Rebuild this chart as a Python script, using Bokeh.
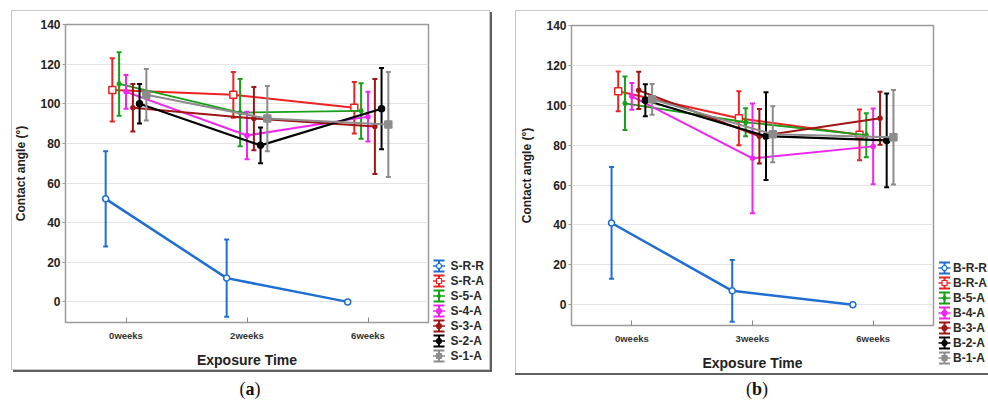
from bokeh.plotting import figure
from bokeh.models import FactorRange, Range1d, ColumnDataSource, FixedTicker, Div
from bokeh.transform import dodge
from bokeh.layouts import row, column
from bokeh.core.properties import value
from bokeh.embed import file_html
from bokeh.resources import INLINE

# ---------------- data ----------------
weeks_a = ["0weeks", "2weeks", "6weeks"]
weeks_b = ["0weeks", "3weeks", "6weeks"]
yticks = [0, 20, 40, 60, 80, 100, 120, 140]

names_a = ["S-R-R", "S-R-A", "S-5-A", "S-4-A", "S-3-A", "S-2-A", "S-1-A"]
names_b = ["B-R-R", "B-R-A", "B-5-A", "B-4-A", "B-3-A", "B-2-A", "B-1-A"]

# panel (a) means and error half-widths
a_SRR_mean = [52, 12, 0];        a_SRR_err = [24, 19.5, 0]
a_SRA_mean = [107, 104.5, 98];   a_SRA_err = [16, 11.5, 13]
a_S5A_mean = [110, 95.5, 96.4];  a_S5A_err = [16, 17, 14]
a_S4A_mean = [106, 84, 93.5];    a_S4A_err = [8.5, 12, 12.5]
a_S3A_mean = [98, 92.5, 88.5];   a_S3A_err = [12, 16, 24]
a_S2A_mean = [100, 79, 97.5];    a_S2A_err = [10, 9, 20.5]
a_S1A_mean = [104.5, 92.5, 89.5]; a_S1A_err = [13, 16.5, 26.5]

# panel (b)
b_BRR_mean = [41, 7, 0];         b_BRR_err = [28, 15.5, 0]
b_BRA_mean = [107, 93.5, 85.2];  b_BRA_err = [10, 13.5, 12.7]
b_B5A_mean = [101, 91.5, 85];    b_B5A_err = [13.4, 7, 11]
b_B4A_mean = [104.5, 73.4, 79.4]; b_B4A_err = [6.7, 27.5, 19]
b_B3A_mean = [107.5, 84.5, 93.5]; b_B3A_err = [9.3, 13.7, 13.3]
b_B2A_mean = [102.5, 84.5, 82.4]; b_B2A_err = [8, 22, 23.5]
b_B1A_mean = [103, 85.5, 84];    b_B1A_err = [7.7, 14, 23.7]

means_a = [a_SRR_mean, a_SRA_mean, a_S5A_mean, a_S4A_mean, a_S3A_mean, a_S2A_mean, a_S1A_mean]
errs_a = [a_SRR_err, a_SRA_err, a_S5A_err, a_S4A_err, a_S3A_err, a_S2A_err, a_S1A_err]
means_b = [b_BRR_mean, b_BRA_mean, b_B5A_mean, b_B4A_mean, b_B3A_mean, b_B2A_mean, b_B1A_mean]
errs_b = [b_BRR_err, b_BRA_err, b_B5A_err, b_B4A_err, b_B3A_err, b_B2A_err, b_B1A_err]

# ---------------- styles ----------------
colors = ["#1f6fd2", "#ee2222", "#18a018", "#f025f0", "#a01515", "#000000", "#8c8c8c"]
markers = ["circle", "square", "diamond", "circle", "circle", "circle", "square"]
msizes = [6, 7, 6, 4, 4, 6, 7]
mfill = ["white", "white", None, None, None, None, None]
offsets = [-0.168, -0.113, -0.057, 0.0, 0.057, 0.112, 0.168]
widths = [2.5, 2, 1.8, 2, 2, 2.2, 2]

SANS = "Liberation Sans"
FRAME_STYLE_A = {"outline": "1px solid #c6c6c6", "outline-offset": "-1px",
                 "box-shadow": "2px 2px 0 0 #5f5f5f", "background": "white"}
FRAME_STYLE_B = {"border-left": "1px solid #c6c6c6", "border-top": "1px solid #c6c6c6",
                 "box-sizing": "border-box",
                 "box-shadow": "0 2px 0 0 #5f5f5f", "background": "white"}


def make_plot(weeks, means, errs, width, height, bl, br, bb):
    p = figure(width=width, height=height,
               x_range=FactorRange(*weeks, range_padding=0),
               y_range=Range1d(-10.4, 140),
               output_backend="svg", toolbar_location=None,
               min_border_left=bl, min_border_right=br, min_border_top=14, min_border_bottom=bb,
               background_fill_color="white", border_fill_color=None)
    p.outline_line_color = "#9a9a9a"
    p.outline_line_width = 1.5
    p.xgrid.visible = False
    p.ygrid.ticker = FixedTicker(ticks=yticks)
    p.ygrid.grid_line_color = "#e4e4e4"
    p.ygrid.grid_line_width = 1

    ya = p.yaxis[0]
    ya.ticker = FixedTicker(ticks=yticks)
    ya.axis_label = "Contact angle (°)"
    ya.axis_label_text_font = SANS
    ya.axis_label_text_font_style = "bold"
    ya.axis_label_text_font_size = "12px"
    ya.axis_label_text_color = "#222222"
    ya.axis_label_standoff = 9
    ya.major_label_text_font = SANS
    ya.major_label_text_font_style = "bold"
    ya.major_label_text_font_size = "12px"
    ya.major_label_text_color = "#222222"
    ya.major_label_standoff = 2
    ya.major_tick_out = 3
    ya.major_tick_in = 0
    ya.minor_tick_out = 0
    ya.minor_tick_in = 0
    ya.axis_line_color = "#9a9a9a"
    ya.major_tick_line_color = "#9a9a9a"

    xa = p.xaxis[0]
    xa.axis_label = "Exposure Time"
    xa.axis_label_text_font = SANS
    xa.axis_label_text_font_style = "bold"
    xa.axis_label_text_font_size = "14px"
    xa.axis_label_text_color = "#222222"
    xa.axis_label_standoff = 8
    xa.major_label_text_font = SANS
    xa.major_label_text_font_style = "bold"
    xa.major_label_text_font_size = "9.5px"
    xa.major_label_text_color = "#333333"
    xa.major_label_standoff = 7
    xa.major_tick_out = 0
    xa.major_tick_in = 5
    xa.axis_line_color = "#9a9a9a"
    xa.major_tick_line_color = "#888888"

    for i in range(len(means)):
        m = means[i]
        e = errs[i]
        src = ColumnDataSource(dict(week=weeks, mean=m,
                                    lo=[mm - ee for mm, ee in zip(m, e)],
                                    hi=[mm + ee for mm, ee in zip(m, e)]))
        dx = dodge("week", offsets[i], range=p.x_range)
        c = colors[i]
        p.segment(x0=dx, y0="lo", x1=dx, y1="hi", source=src, line_color=c, line_width=2)
        p.scatter(x=dx, y="hi", source=src, marker="dash", size=5, line_color=c, line_width=2)
        p.scatter(x=dx, y="lo", source=src, marker="dash", size=5, line_color=c, line_width=2)
        p.line(x=dx, y="mean", source=src, line_color=c, line_width=widths[i])
        fc = mfill[i] if mfill[i] else c
        p.scatter(x=dx, y="mean", source=src, marker=markers[i], size=msizes[i],
                  line_color=c, fill_color=fc, line_width=1.5)
    return p


def make_legend(names, width, icon_x, text_x, font_size, top_margin):
    n = len(names)
    lg = figure(width=width, height=15 * n, x_range=Range1d(0, width),
                y_range=Range1d(n - 0.5, -0.5), output_backend="svg", toolbar_location=None,
                min_border=0, x_axis_location=None, y_axis_location=None,
                background_fill_color=None, border_fill_color=None, outline_line_color=None,
                margin=(top_margin, 0, 0, 0))
    lg.xgrid.visible = False
    lg.ygrid.visible = False
    src = ColumnDataSource(dict(name=names, y=list(range(n)), color=colors,
                                marker=markers,
                                fill=[f if f else c for f, c in zip(mfill, colors)]))
    top = dodge("y", -0.36)
    bot = dodge("y", 0.36)
    lg.segment(x0=icon_x, x1=icon_x, y0=top, y1=bot, source=src, line_color="color", line_width=2)
    lg.segment(x0=icon_x - 5.5, x1=icon_x + 5.5, y0=top, y1=top, source=src,
               line_color="color", line_width=2)
    lg.segment(x0=icon_x - 5.5, x1=icon_x + 5.5, y0=bot, y1=bot, source=src,
               line_color="color", line_width=2)
    lg.segment(x0=icon_x - 6, x1=icon_x + 6, y0="y", y1="y", source=src,
               line_color="color", line_width=1.5)
    lg.scatter(x=icon_x, y="y", source=src, marker="marker", size=5,
               line_color="color", fill_color="fill", line_width=1.2)
    lg.text(x=text_x, y="y", text="name", source=src, text_baseline="middle",
            text_align="left", text_font=value(SANS), text_font_style="bold",
            text_font_size=font_size, text_color="#2a2a2a")
    return lg


plot_a = make_plot(weeks_a, means_a, errs_a, 421, 360, 54, 4, 47)
leg_a = make_legend(names_a, 58, 6.5, 18, "12px", 248)
panel_a = row(plot_a, column(leg_a, width=58, height=360), styles=FRAME_STYLE_A,
              margin=(10, 25, 0, 11))

plot_b = make_plot(weeks_b, means_b, errs_b, 419, 362, 55, 2, 47)
leg_b = make_legend(names_b, 54, 9, 17.5, "12px", 249)
panel_b = row(plot_b, column(leg_b, width=54, height=362), styles=FRAME_STYLE_B,
              margin=(10, 0, 0, 0))

cap_style = {"font-family": "'Liberation Serif', serif", "font-size": "18px",
             "text-align": "center", "color": "#111111", "line-height": "20px"}
cap_a = Div(text="(<b>a</b>)", width=484, height=20, styles=cap_style, margin=(6, 0, 0, 8))
cap_b = Div(text="(<b>b</b>)", width=426, height=20, styles=cap_style, margin=(6, 0, 0, 52))

layout = column(row(panel_a, panel_b), row(cap_a, cap_b))
open("out.html", "w").write(file_html(layout, INLINE))
